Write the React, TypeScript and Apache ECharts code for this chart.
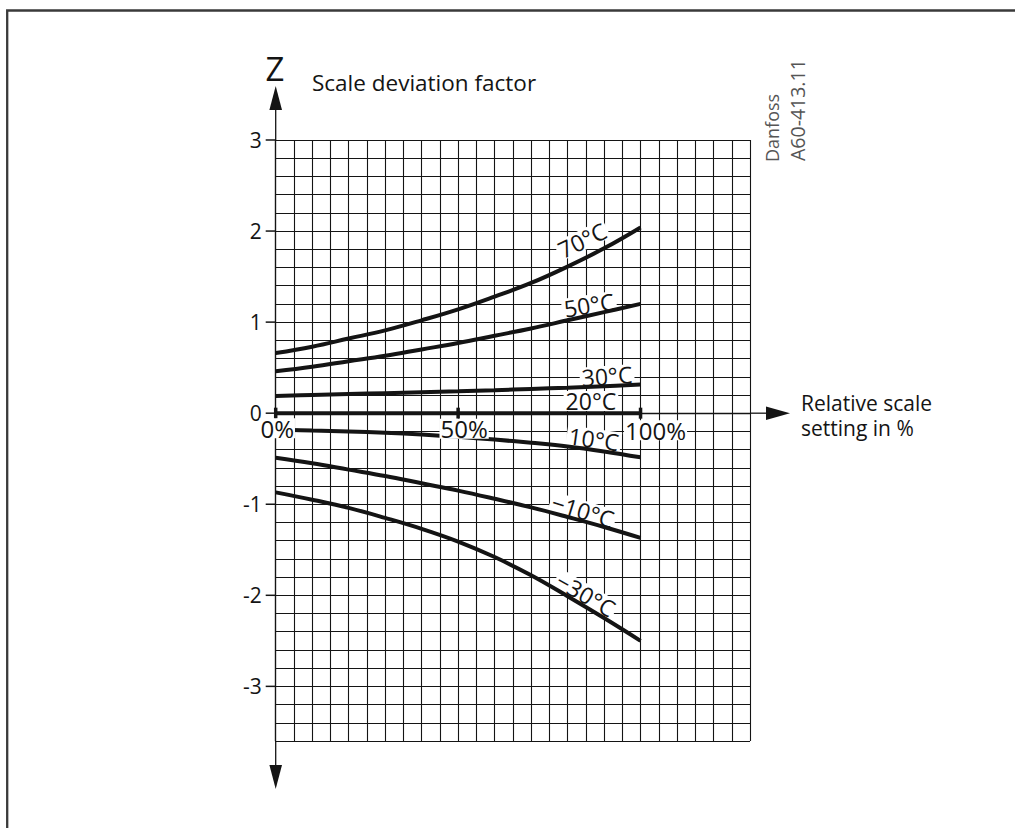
import React, { useEffect, useRef } from "react";
import * as echarts from "echarts";

// ---- data ----
const pct = [0, 10, 20, 30, 40, 50, 60, 70, 80, 90, 100];
const t70 = [0.66, 0.73, 0.82, 0.91, 1.02, 1.14, 1.28, 1.43, 1.61, 1.81, 2.04];
const t50 = [0.46, 0.51, 0.57, 0.63, 0.7, 0.77, 0.85, 0.93, 1.02, 1.11, 1.2];
const t30 = [0.19, 0.2, 0.21, 0.22, 0.23, 0.24, 0.252, 0.266, 0.28, 0.296, 0.315];
const t20 = [0, 0, 0, 0, 0, 0, 0, 0, 0, 0, 0];
const t10 = [-0.18, -0.19, -0.2, -0.215, -0.235, -0.26, -0.29, -0.325, -0.365, -0.42, -0.485];
const tm10 = [-0.49, -0.55, -0.62, -0.69, -0.77, -0.85, -0.94, -1.035, -1.14, -1.25, -1.37];
const tm30 = [-0.87, -0.95, -1.04, -1.15, -1.27, -1.41, -1.58, -1.78, -2.01, -2.25, -2.5];
const curves = [t70, t50, t30, t20, t10, tm10, tm30];

const curveNames = ["70°C", "50°C", "30°C", "20°C", "10°C", "−10°C", "−30°C"];
const curveLabelX = [84.0, 85.9, 90.8, 86.4, 87.2, 84.2, 85.0];
const curveLabelY = [1.9, 1.19, 0.41, 0.134, -0.283, -1.07, -1.99];
const curveLabelAngle = [26, 9, 4, 0, -8, -17, -30];

const xTickValues = [0, 50, 100];
const xTickLabels = ["0%", "50%", "100%"];
const xTickLabelOffset = [
  [1.5, 15],
  [6, 15.5],
  [15, 17],
];
const yMajor = [-3, -2, -1, 0, 1, 2, 3];

const X_MIN = 0;
const X_MAX = 130;
const Y_MIN = -3.6;
const Y_MAX = 3;

const FONT = "'Open Sans', 'Noto Sans', sans-serif";
const INK = "#141414";

// layout
const GL = 275.7;
const GT = 140;
const GW = 474.3;
const GH = 601;

export default function App() {
  const ref = useRef<HTMLDivElement>(null);

  useEffect(() => {
    if (!ref.current) return;
    const chart = echarts.init(ref.current, null, { renderer: "svg" });
    const GR = GL + GW;
    const GB = GT + GH;
    const y0 = GT + (Y_MAX / (Y_MAX - Y_MIN)) * GH;

    const lineSeries = curves.map((vals, i) => ({
      type: "line",
      name: curveNames[i],
      data: pct.map((p, j) => [p, vals[j]]),
      showSymbol: false,
      smooth: 0.4,
      silent: true,
      z: 3,
      lineStyle: { color: INK, width: 4, cap: "butt" },
    }));

    const text = (t: string, x: number, y: number, size: number, extra: any = {}) => ({
      type: "text",
      x,
      y,
      silent: true,
      rotation: extra.rotation || 0,
      style: {
        text: t,
        fontSize: size,
        lineHeight: extra.lineHeight || Math.round(size * 1.1),
        fontFamily: FONT,
        fill: extra.fill || INK,
        align: extra.align || "left",
        verticalAlign: "middle",
      },
    });

    const labelBase = {
      show: true,
      position: "inside",
      align: "center",
      verticalAlign: "middle",
      fontFamily: FONT,
      color: INK,
      opacity: 1,
      textBorderWidth: 0,
      textBorderColor: "transparent",
      textShadowBlur: 0,
      backgroundColor: "#fff",
      lineHeight: 20,
    };

    const option: any = {
      animation: false,
      backgroundColor: "#fff",
      grid: { left: GL, top: GT, width: GW, height: GH, containLabel: false },
      xAxis: {
        type: "value",
        min: X_MIN,
        max: X_MAX,
        interval: 5,
        axisLine: { show: true, onZero: true, lineStyle: { color: INK, width: 1.3 } },
        axisTick: { show: false },
        axisLabel: { show: false },
        splitLine: { show: true, lineStyle: { color: INK, width: 1.1 } },
      },
      yAxis: {
        type: "value",
        min: Y_MIN,
        max: Y_MAX,
        interval: 0.2,
        axisLine: { show: true, onZero: false, lineStyle: { color: INK, width: 1.3 } },
        axisTick: { show: false },
        axisLabel: {
          margin: 14,
          fontSize: 21,
          color: INK,
          fontFamily: FONT,
          formatter: (v: number) => {
            const r = Math.round(v);
            return Math.abs(v - r) < 1e-6 && r >= -3 && r <= 3 ? String(r) : "";
          },
        },
        splitLine: { show: true, lineStyle: { color: INK, width: 1.1 } },
      },
      series: [
        ...lineSeries,
        {
          type: "scatter",
          name: "yticks",
          data: yMajor.map((v) => [X_MIN, v]),
          symbol: "rect",
          symbolSize: [10, 1.5],
          symbolOffset: [-5, 0],
          itemStyle: { color: INK, opacity: 1 },
          clip: false,
          silent: true,
          z: 3,
        },
        {
          type: "scatter",
          name: "xticks",
          data: xTickValues.map((v) => [v, 0]),
          symbol: "rect",
          symbolSize: [3.5, 11],
          itemStyle: { color: INK, opacity: 1 },
          clip: false,
          silent: true,
          z: 3,
        },
        {
          type: "scatter",
          name: "xlabels",
          data: xTickValues.map((v, i) => ({
            value: [v, 0],
            label: { formatter: xTickLabels[i], offset: xTickLabelOffset[i] },
          })),
          symbolSize: 1,
          itemStyle: { color: INK, opacity: 1 },
          clip: false,
          silent: true,
          z: 5,
          label: { ...labelBase, fontSize: 24, padding: [0, 1] },
        },
        {
          type: "scatter",
          name: "curvelabels",
          data: curveNames.map((n, i) => ({
            value: [curveLabelX[i], curveLabelY[i]],
            label: { formatter: n, rotate: curveLabelAngle[i] },
          })),
          symbolSize: 1,
          itemStyle: { color: "#fff", opacity: 1 },
          clip: false,
          silent: true,
          z: 2,
          label: { ...labelBase, fontSize: 23, padding: [0, 2] },
        },
      ],
      graphic: [
        {
          type: "polyline",
          shape: { points: [[7.2, 828], [7.2, 10.5], [1015, 10.5]] },
          style: { stroke: "#3a3a3a", lineWidth: 2.3, fill: null },
          silent: true,
        },
        {
          type: "line",
          shape: { x1: GL, y1: GT, x2: GL, y2: 108 },
          style: { stroke: INK, lineWidth: 1.3 },
          silent: true,
        },
        {
          type: "polygon",
          shape: { points: [[GL, 86], [GL - 6.3, 110], [GL + 6.3, 110]] },
          style: { fill: INK },
          silent: true,
        },
        {
          type: "line",
          shape: { x1: GL, y1: GB, x2: GL, y2: 767 },
          style: { stroke: INK, lineWidth: 1.3 },
          silent: true,
        },
        {
          type: "polygon",
          shape: { points: [[GL - 6.3, 765], [GL + 6.3, 765], [GL, 789]] },
          style: { fill: INK },
          silent: true,
        },
        {
          type: "line",
          shape: { x1: GR, y1: y0, x2: 768, y2: y0 },
          style: { stroke: INK, lineWidth: 1.3 },
          silent: true,
        },
        {
          type: "polygon",
          shape: { points: [[766, y0 - 6.7], [766, y0 + 6.7], [790, y0]] },
          style: { fill: INK },
          silent: true,
        },
        text("Z", 275, 68, 33, { align: "center" }),
        text("Scale deviation factor", 312, 82, 22.5),
        text("Relative scale", 801, 402.5, 21, { lineHeight: 22 }),
        text("setting in %", 801, 428, 21, { lineHeight: 22 }),
        text("Danfoss", 772, 162, 18, { rotation: Math.PI / 2, fill: "#555" }),
        text("A60-413.11", 797, 161, 19.5, { rotation: Math.PI / 2, fill: "#555" }),
      ],
    };

    chart.setOption(option);
    return () => chart.dispose();
  }, []);

  return (
    <div
      ref={ref}
      style={{ position: "absolute", left: 0, top: 0, width: 1015, height: 828, background: "#fff" }}
    />
  );
}
